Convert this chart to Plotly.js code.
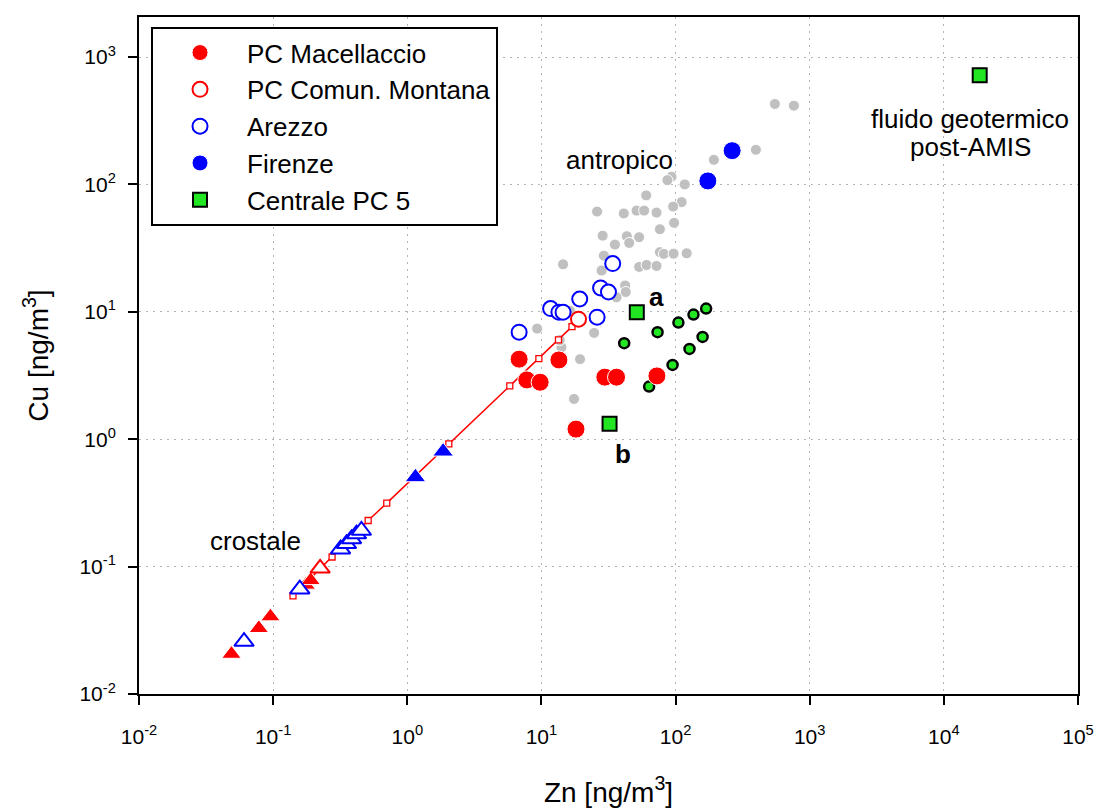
<!DOCTYPE html>
<html>
<head>
<meta charset="utf-8">
<script src="https://cdn.plot.ly/plotly-3.0.1.min.js"></script>
<style>html,body{margin:0;padding:0;background:#fff;}#chart{width:1101px;height:808px;}</style>
</head>
<body>
<div id="chart"></div>
<script>
// ---- data (Zn, Cu in ng/m3) ----
const grayZn = [550,762,397,193,93.3,86.9,117,60.4,111,96,26,41.1,51.2,58.3,72.1,76.4,97.5,28.6,43.3,53.5,35.3,45.1,29.2,76.4,81.8,96.6,121,14.5,28.1,53.5,60.8,72.1,42.1,42.5,36.3,9.29,24.7,14.1,19.4,17.5,13.7,16.3];
const grayCu = [428,415,187,156,115,108,100,82,72.6,67,61.2,59.2,62.3,62.3,60.1,44.5,49.9,39.6,39.2,38.5,33.7,34.7,27.6,29.4,28.5,28.6,28.8,23.6,21.1,22.5,23.3,22.9,16.1,14.3,13.0,7.38,6.83,5.26,4.25,2.07,6.0,10.2];

const greenDotZn = [41.4,73.4,105,136,169,95,127,159,63.5];
const greenDotCu = [5.67,6.92,8.23,9.51,10.6,3.83,5.11,6.35,2.59];

const crustLineZn = [0.1406,0.275,0.511,0.703,2.04,5.81,9.57,13.4,16.9];
const crustLineCu = [0.0589,0.119,0.230,0.315,0.918,2.62,4.29,6.02,7.65];

const macTriZn = [0.0489,0.0782,0.0955,0.175,0.1905];
const macTriCu = [0.0206,0.0328,0.0405,0.0718,0.078];

const monTriZn = [0.224];
const monTriCu = [0.097];

const arTriZn = [0.0607,0.158,0.318,0.352,0.384,0.418,0.455];
const arTriCu = [0.0258,0.0665,0.137,0.151,0.165,0.180,0.192];

const fiTriZn = [1.15,1.85];
const fiTriCu = [0.503,0.80];

const macZn = [6.82,7.78,9.78,13.5,29.7,36.3,72.6,18.1];
const macCu = [4.25,2.92,2.80,4.19,3.07,3.07,3.14,1.20];

const monZn = [18.9];
const monCu = [8.75];

const arZn = [6.82,11.7,13.5,14.5,19.3,26.0,27.6,31.6,34.0];
const arCu = [6.92,10.6,9.93,9.93,12.6,9.07,15.4,14.3,23.9];

const fiZn = [174,264];
const fiCu = [106.5,184];

const pcZn = [51.4,32.2,18500];
const pcCu = [9.93,1.32,720];

const tickVals = [0.01,0.1,1,10,100,1000,10000,100000];
const tickText = ['10<sup>-2</sup>','10<sup>-1</sup>','10<sup>0</sup>','10<sup>1</sup>','10<sup>2</sup>','10<sup>3</sup>','10<sup>4</sup>','10<sup>5</sup>'];

const names = ['PC Macellaccio','PC Comun. Montana','Arezzo','Firenze','Centrale PC 5'];

// ---- styles ----
const RED = '#ff0000', BLUE = '#0000ff', GREEN = '#22e622', GRAY = '#c0c0c0';
const FONT = 'Liberation Sans, Arial, Helvetica, sans-serif';

const traces = [
  {x: grayZn, y: grayCu, mode: 'markers', showlegend: false,
   marker: {symbol: 'circle', size: 11, color: GRAY, line: {color: '#ffffff', width: 1}}},
  {x: greenDotZn, y: greenDotCu, mode: 'markers', showlegend: false,
   marker: {symbol: 'circle', size: 10, color: GREEN, line: {color: '#000000', width: 2.5}}},
  {x: crustLineZn, y: crustLineCu, mode: 'lines+markers', showlegend: false,
   line: {color: RED, width: 1.5},
   marker: {symbol: 'square', size: 6, color: '#ffffff', line: {color: RED, width: 1.3}}},
  {x: macTriZn, y: macTriCu, mode: 'markers', showlegend: false,
   marker: {symbol: 'triangle-up', size: 17, color: RED, line: {color: '#ffffff', width: 1}}},
  {x: arTriZn, y: arTriCu, mode: 'markers', showlegend: false,
   marker: {symbol: 'triangle-up', size: 17, color: '#ffffff', line: {color: BLUE, width: 2}}},
  {x: monTriZn, y: monTriCu, mode: 'markers', showlegend: false,
   marker: {symbol: 'triangle-up', size: 17, color: '#ffffff', line: {color: RED, width: 2}}},
  {x: fiTriZn, y: fiTriCu, mode: 'markers', showlegend: false,
   marker: {symbol: 'triangle-up', size: 18, color: BLUE, line: {color: '#ffffff', width: 1}}},
  {x: arZn, y: arCu, mode: 'markers', name: names[2], legendrank: 3,
   marker: {symbol: 'circle', size: 15, color: '#ffffff', line: {color: BLUE, width: 2}}},
  {x: monZn, y: monCu, mode: 'markers', name: names[1], legendrank: 2,
   marker: {symbol: 'circle', size: 15, color: '#ffffff', line: {color: RED, width: 2}}},
  {x: macZn, y: macCu, mode: 'markers', name: names[0], legendrank: 1,
   marker: {symbol: 'circle', size: 18, color: RED, line: {color: '#ffffff', width: 1}}},
  {x: fiZn, y: fiCu, mode: 'markers', name: names[3], legendrank: 4,
   marker: {symbol: 'circle', size: 18, color: BLUE, line: {color: '#ffffff', width: 1}}},
  {x: pcZn, y: pcCu, mode: 'markers', name: names[4], legendrank: 5,
   marker: {symbol: 'square', size: 14, color: GREEN, line: {color: '#000000', width: 2}}}
];

const axisCommon = {
  type: 'log', tickmode: 'array', tickvals: tickVals, ticktext: tickText,
  showline: true, linecolor: '#000000', linewidth: 2, mirror: true,
  ticks: 'outside', ticklen: 9, tickwidth: 2, tickcolor: '#000000',
  showgrid: true, gridcolor: '#b4b4b4', gridwidth: 1, griddash: '2px,5px',
  zeroline: false, tickfont: {family: FONT, size: 21, color: '#000000'},
  automargin: false
};

const annFont = {family: FONT, size: 26, color: '#000000'};
function ann(text, x, y) {
  return {text: text, xref: 'paper', yref: 'paper', x: x, y: y, xanchor: 'center', yanchor: 'middle', showarrow: false, font: annFont};
}

const layout = {
  width: 1101, height: 808,
  margin: {l: 139, r: 23, t: 17, b: 114},
  paper_bgcolor: '#ffffff', plot_bgcolor: '#ffffff',
  font: {family: FONT, color: '#000000'},
  hovermode: false,
  xaxis: Object.assign({}, axisCommon, {
    range: [-2, 5], ticklabelstandoff: 14,
    title: {text: 'Zn [ng/m<sup>3</sup>]', font: {family: FONT, size: 28, color: '#000000'}, standoff: 36}
  }),
  yaxis: Object.assign({}, axisCommon, {
    range: [-2, 3.314], ticklabelstandoff: 8,
    title: {text: 'Cu [ng/m<sup>3</sup>]', font: {family: FONT, size: 28, color: '#000000'}, standoff: 23}
  }),
  legend: {
    x: 0.0128, y: 0.985, xanchor: 'left', yanchor: 'top',
    bgcolor: '#ffffff', bordercolor: '#000000', borderwidth: 2,
    font: {family: FONT, size: 26, color: '#000000'},
    itemwidth: 84, tracegroupgap: 0
  },
  annotations: [
    ann('antropico', 0.5117, 0.7888),
    ann('crostale', 0.1246, 0.2264),
    ann('<b>a</b>', 0.5506, 0.5869),
    ann('<b>b</b>', 0.5151, 0.3545),
    ann('fluido geotermico', 0.885, 0.8489),
    ann('post-AMIS', 0.885, 0.8084)
  ]
};

Plotly.newPlot('chart', traces, layout, {displayModeBar: false, staticPlot: true});
</script>
</body>
</html>
